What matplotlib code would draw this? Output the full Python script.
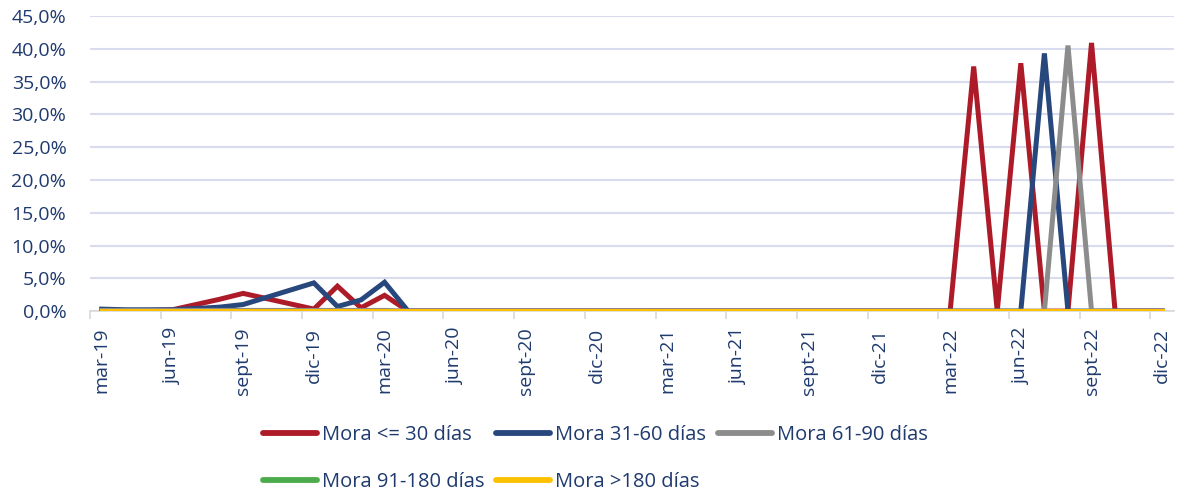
import matplotlib
matplotlib.use("Agg")
import matplotlib.pyplot as plt
from matplotlib.ticker import FixedLocator, FuncFormatter

plt.rcParams["font.family"] = ["Open Sans", "DejaVu Sans"]

# ── datos ─────────────────────────────────────────────
MESES_ES = ["ene", "feb", "mar", "abr", "may", "jun",
            "jul", "ago", "sept", "oct", "nov", "dic"]
meses = []
for k in range(46):          # mar-19 ... dic-22
    m = (2 + k) % 12
    a = 19 + (2 + k) // 12
    meses.append(f"{MESES_ES[m]}-{a}")

mora_30 = [0.2, 0.1, 0.1, 0.2, 1.0, 1.8, 2.7, 1.9, 1.1, 0.3,
           3.8, 0.5, 2.4, 0.0, 0.0, 0.0, 0.0, 0.0, 0.0, 0.0,
           0.0, 0.0, 0.0, 0.0, 0.0, 0.0, 0.0, 0.0, 0.0, 0.0,
           0.0, 0.0, 0.0, 0.0, 0.0, 0.0, 0.0, 37.3, 0.0, 37.8,
           0.0, 0.0, 40.9, 0.0, 0.0, 0.0]
mora_31_60 = [0.3, 0.2, 0.2, 0.2, 0.4, 0.6, 1.0, 2.1, 3.2, 4.3,
              0.7, 1.7, 4.4, 0.0, 0.0, 0.0, 0.0, 0.0, 0.0, 0.0,
              0.0, 0.0, 0.0, 0.0, 0.0, 0.0, 0.0, 0.0, 0.0, 0.0,
              0.0, 0.0, 0.0, 0.0, 0.0, 0.0, 0.0, 0.0, 0.0, 0.0,
              39.3, 0.0, 0.0, 0.0, 0.0, 0.0]
mora_61_90 = [0.1, 0.1, 0.1, 0.1, 0.1, 0.1, 0.1, 0.1, 0.1, 0.1,
              0.1, 0.1, 0.1, 0.0, 0.0, 0.0, 0.0, 0.0, 0.0, 0.0,
              0.0, 0.0, 0.0, 0.0, 0.0, 0.0, 0.0, 0.0, 0.0, 0.0,
              0.0, 0.0, 0.0, 0.0, 0.0, 0.0, 0.0, 0.0, 0.0, 0.0,
              0.0, 40.5, 0.0, 0.0, 0.0, 0.0]
mora_91_180 = [0.0] * 46
mora_180 = [0.0] * 46

series = [
    ("Mora <= 30 días", mora_30, "#AD1A28"),
    ("Mora 31-60 días", mora_31_60, "#28477D"),
    ("Mora 61-90 días", mora_61_90, "#8C8C8C"),
    ("Mora 91-180 días", mora_91_180, "#4CAB4A"),
    ("Mora >180 días", mora_180, "#FFC000"),
]

TXT = "#1F3A6E"

# ── figura ────────────────────────────────────────────
fig = plt.figure(figsize=(11.78, 4.93), dpi=100)
ax = fig.add_axes([0.0764, 0.369, 0.9202, 0.5985])

x = list(range(len(meses)))
lines = {}
for label, vals, color in series:
    (ln,) = ax.plot(x, vals, color=color, linewidth=3.6,
                    solid_joinstyle="miter", label=label, zorder=3)
    lines[label] = ln

ax.set_xlim(-0.5, len(meses) - 0.5)
ax.set_ylim(0, 45)
ax.set_yticks(range(0, 50, 5))
ax.yaxis.set_major_formatter(FuncFormatter(lambda v, _: f"{v:.1f}%".replace(".", ",")))
ax.grid(axis="y", color="#D9DCEE", linewidth=1.5, zorder=0)
ax.set_axisbelow(True)

pos = list(range(0, len(meses), 3))
ax.set_xticks(pos)
ax.set_xticklabels([meses[i] for i in pos], rotation=90)
ax.xaxis.set_minor_locator(FixedLocator([p - 0.5 for p in pos]))
ax.tick_params(axis="x", which="major", length=0, pad=12,
               labelsize=14, labelcolor=TXT)
ax.tick_params(axis="x", which="minor", length=6, width=1.2,
               color="#D9D9D9")
ax.tick_params(axis="y", length=0, pad=17, labelsize=14, labelcolor=TXT)

for s in ["top", "right", "left"]:
    ax.spines[s].set_visible(False)
ax.spines["bottom"].set_color("#D9D9D9")
ax.spines["bottom"].set_linewidth(1.2)

# leyenda: orden por columnas para que las filas queden como en el original
orden = ["Mora <= 30 días", "Mora 91-180 días", "Mora 31-60 días",
         "Mora >180 días", "Mora 61-90 días"]
leg = fig.legend([lines[k] for k in orden], orden, ncol=3,
                 loc="center", bbox_to_anchor=(0.5055, 0.07),
                 frameon=False, fontsize=14.5, handlelength=2.68,
                 handletextpad=0.25, columnspacing=0.6, labelspacing=1.3,
                 borderpad=0)
for t in leg.get_texts():
    t.set_color(TXT)
for h in leg.legend_handles:
    h.set_linewidth(4.2)
    h.set_solid_capstyle("round")

fig.savefig("out.png", dpi=100)
